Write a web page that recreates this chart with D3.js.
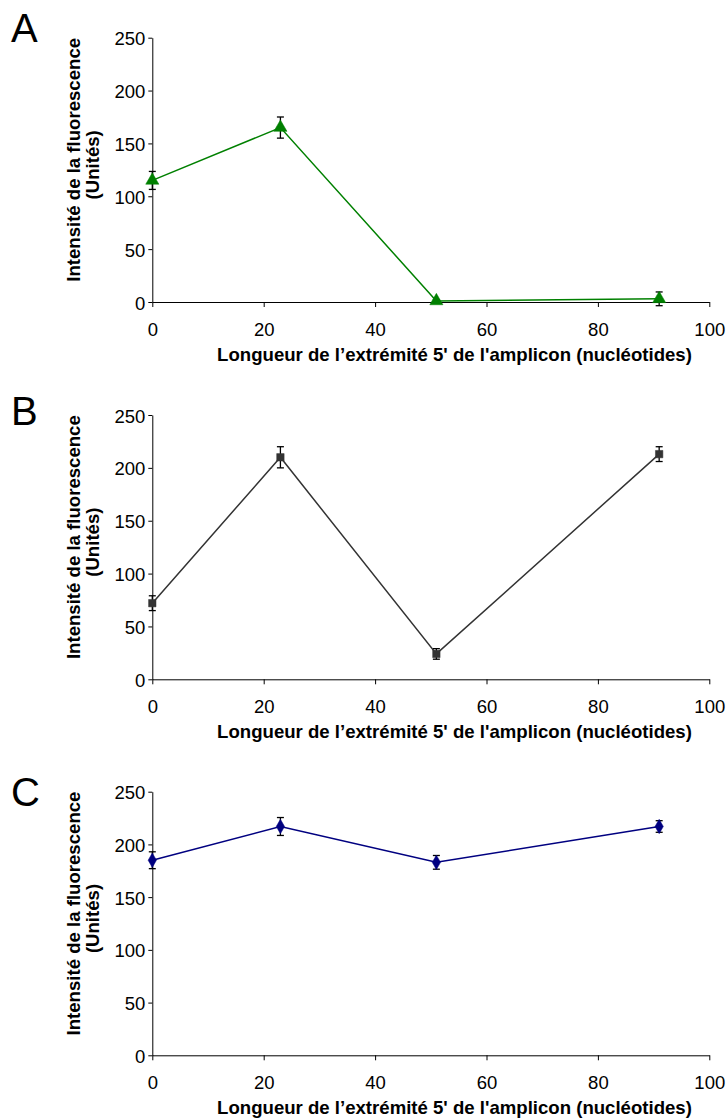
<!DOCTYPE html>
<html>
<head>
<meta charset="utf-8">
<script src="https://cdn.jsdelivr.net/npm/d3@7"></script>
<style>
  html, body { margin: 0; padding: 0; background: #fff; }
  svg { display: block; font-family: Arial, "Liberation Sans", Helvetica, sans-serif; }
</style>
</head>
<body>
<svg id="chart" width="728" height="1120"></svg>
<script>
// ---- Data ----
const panelLetters = ["A", "B", "C"];
const xValues = [0, 23, 51, 91];            // 5' end length (nucleotides)
const seriesA = [115, 165, 1, 3];
const errorsA = [8.5, 10, 1, 6.5];
const seriesB = [72, 210, 24, 213];
const errorsB = [7, 10, 5, 7];
const seriesC = [185, 217, 183, 217];
const errorsC = [8, 8.5, 6.5, 5.5];
const xTicks = [0, 20, 40, 60, 80, 100];
const yTicks = [0, 50, 100, 150, 200, 250];
const xTitle = "Longueur de l\u2019extrémité 5' de l'amplicon (nucléotides)";
const yTitle1 = "Intensité de la fluorescence";
const yTitle2 = "(Unités)";

const panels = [
  { letter: panelLetters[0], values: seriesA, errors: errorsA, color: "#008000", marker: d3.symbolTriangle, msize: 75, top: 37.7, bottom: 302, letterY: 42 },
  { letter: panelLetters[1], values: seriesB, errors: errorsB, color: "#333333", marker: d3.symbolSquare, msize: 55, top: 415, bottom: 679.3, letterY: 425 },
  { letter: panelLetters[2], values: seriesC, errors: errorsC, color: "#000080", marker: d3.symbolDiamond, msize: 60, top: 791.7, bottom: 1055.3, letterY: 806 }
];

const svg = d3.select("#chart");
const xLeft = 152.3, xRight = 709.3;
const x = d3.scaleLinear().domain([0, 100]).range([xLeft, xRight]);
const tickFont = 18.5, titleFont = 18.6;

panels.forEach(p => {
  const y = d3.scaleLinear().domain([0, 250]).range([p.bottom, p.top]);
  const g = svg.append("g");

  // panel letter
  g.append("text").attr("x", 11).attr("y", p.letterY)
    .attr("font-size", 40).attr("fill", "#000").text(p.letter);

  // y axis
  const ya = g.append("g").attr("transform", `translate(${xLeft},0)`)
    .call(d3.axisLeft(y).tickValues(yTicks).tickSize(4).tickPadding(3).tickSizeOuter(0));
  ya.selectAll("text").attr("font-size", tickFont).attr("fill", "#000").attr("dy", "0.38em");
  ya.select(".domain").attr("stroke", "#000");
  ya.selectAll(".tick line").attr("stroke", "#000");

  // x axis
  const xa = g.append("g").attr("transform", `translate(0,${p.bottom})`)
    .call(d3.axisBottom(x).tickValues(xTicks).tickSize(5).tickPadding(15.5).tickSizeOuter(0));
  xa.selectAll("text").attr("font-size", tickFont).attr("fill", "#000");
  xa.select(".domain").attr("stroke", "#000");
  xa.selectAll(".tick line").attr("stroke", "#000");

  // axis titles
  g.append("text").attr("x", 454.5).attr("y", p.bottom + 59)
    .attr("text-anchor", "middle").attr("font-size", titleFont).attr("font-weight", "bold")
    .text(xTitle);
  const cy = (p.top + p.bottom) / 2;
  g.append("text").attr("transform", `translate(80,${cy - 10}) rotate(-90)`)
    .attr("text-anchor", "middle").attr("font-size", titleFont).attr("font-weight", "bold")
    .text(yTitle1);
  g.append("text").attr("transform", `translate(98.5,${cy - 5}) rotate(-90)`)
    .attr("text-anchor", "middle").attr("font-size", titleFont).attr("font-weight", "bold")
    .text(yTitle2);

  const pts = xValues.map((xv, i) => ({ x: xv, v: p.values[i], e: p.errors[i] }));

  // line
  g.append("path").datum(pts)
    .attr("fill", "none").attr("stroke", p.color).attr("stroke-width", 1.5)
    .attr("d", d3.line().x(d => x(d.x)).y(d => y(d.v)));

  // error bars
  const eb = g.append("g").attr("stroke", "#000").attr("stroke-width", 1.3);
  pts.forEach(d => {
    const cx = x(d.x), yt = y(d.v + d.e), yb = y(d.v - d.e);
    eb.append("line").attr("x1", cx).attr("x2", cx).attr("y1", yt).attr("y2", yb);
    eb.append("line").attr("x1", cx - 3.5).attr("x2", cx + 3.5).attr("y1", yt).attr("y2", yt);
    eb.append("line").attr("x1", cx - 3.5).attr("x2", cx + 3.5).attr("y1", yb).attr("y2", yb);
  });

  // markers
  g.selectAll(".m").data(pts).enter().append("path")
    .attr("transform", d => `translate(${x(d.x)},${y(d.v)})`)
    .attr("d", d3.symbol().type(p.marker).size(p.msize))
    .attr("fill", p.color).attr("stroke", p.color).attr("stroke-width", 0.5);
});
</script>
</body>
</html>
